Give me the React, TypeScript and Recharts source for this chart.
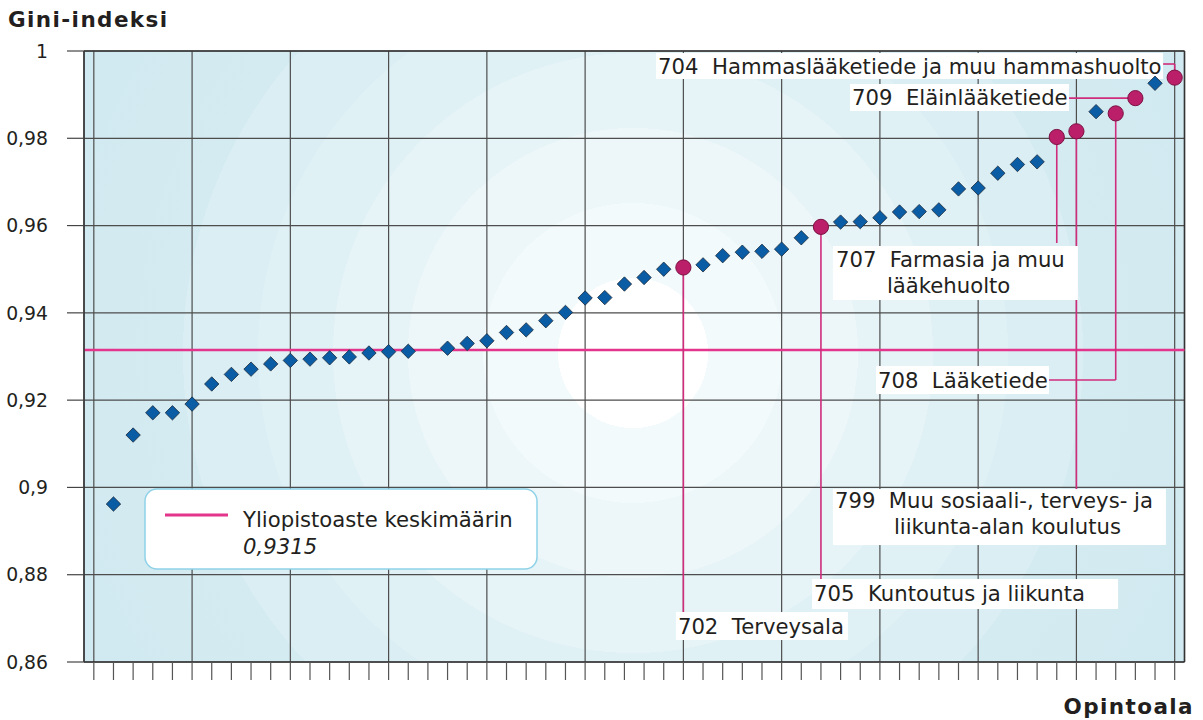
import React from 'react';
import {
  ComposedChart, Scatter, XAxis, YAxis, CartesianGrid,
  ReferenceLine, ReferenceDot
} from 'recharts';

const FONT = '"DejaVu Sans", Verdana, sans-serif';
const TEXT = '#231f20';

// Gini-indeksi opintoaloittain, nousevassa järjestyksessä (null = ei pistettä)
const giniValues: (number | null)[] = [
  null, 0.8962, 0.9120, 0.9171, 0.9171, 0.9191, 0.9237, 0.9259, 0.9271, 0.9283,
  0.9291, 0.9294, 0.9297, 0.9299, 0.9308, 0.9311, 0.9312, null, 0.9319, 0.9330,
  0.9336, 0.9355, 0.9361, 0.9382, 0.9401, 0.9434, 0.9435, 0.9466, 0.9481, 0.9500,
  0.9504, 0.9510, 0.9531, 0.9539, 0.9541, 0.9546, 0.9572, 0.9597, 0.9608, 0.9609,
  0.9618, 0.9631, 0.9632, 0.9636, 0.9684, 0.9686, 0.9720, 0.9740, 0.9746, 0.9803,
  0.9816, 0.9861, 0.9857, 0.9892, 0.9926, 0.9939,
];

const yTicks = [0.86, 0.88, 0.9, 0.92, 0.94, 0.96, 0.98, 1];
const average = 0.9315;
const averageLabel = 'Yliopistoaste keskimäärin';

// korostetut alat
const highlightIndex = [30, 37, 49, 50, 52, 53, 55];
const highlightCodes = ['702', '705', '707', '799', '708', '709', '704'];
const highlightNames = [
  ['Terveysala'],
  ['Kuntoutus ja liikunta'],
  ['Farmasia ja muu', 'lääkehuolto'],
  ['Muu sosiaali-, terveys- ja', 'liikunta-alan koulutus'],
  ['Lääketiede'],
  ['Eläinlääketiede'],
  ['Hammaslääketiede ja muu hammashuolto'],
];

// label boxes: top-left in data coords, size + text offsets in px, leader waypoints in data coords
type Layout = { box: [number, number]; w: number; h: number; lines: [number, number][]; leader: [number, number][] };
const labelLayout: Record<string, Layout> = {
  '702': { box: [29.62, 0.87145], w: 172, h: 28, lines: [[2, 22]], leader: [[30, 0.87145]] },
  '705': { box: [36.55, 0.87901], w: 306, h: 30, lines: [[2, 22]], leader: [[37, 0.87901]] },
  '707': { box: [37.61, 0.95532], w: 245, h: 54, lines: [[3, 21], [54, 47]], leader: [[49, 0.9560]] },
  '799': { box: [37.61, 0.89963], w: 333, h: 56, lines: [[2, 19], [61, 45]], leader: [[50, 0.89963]] },
  '708': { box: [39.80, 0.92782], w: 173, h: 28, lines: [[2, 22]], leader: [[52, 0.92461], [48.60, 0.92461]] },
  '709': { box: [38.48, 0.99244], w: 219, h: 27, lines: [[2, 21]], leader: [[49.57, 0.9892]] },
  '704': { box: [28.61, 0.99954], w: 507, h: 26, lines: [[2, 21]], leader: [[55, 0.99702], [54.41, 0.99702]] },
};

const xTicks = giniValues.map((_, i) => i);
const majorTicks = xTicks.filter((i) => i % 5 === 0);

const diamonds = giniValues
  .map((v, i) => ({ x: i, y: v }))
  .filter((d) => d.y !== null && !highlightIndex.includes(d.x));
const circles = highlightIndex.map((i) => ({ x: i, y: giniValues[i] as number }));

const fmt = (v: number) => String(+v.toFixed(4)).replace('.', ',');

const Diamond = (p: any) => {
  const { cx, cy } = p;
  if (cx == null || cy == null) return <g />;
  const s = 7.2;
  return (
    <path
      d={`M${cx},${cy - s}L${cx + s},${cy}L${cx},${cy + s}L${cx - s},${cy}Z`}
      fill="#0a5ca4" stroke="#1c2b3b" strokeWidth={0.8}
    />
  );
};

const Circle = (p: any) => {
  const { cx, cy } = p;
  if (cx == null || cy == null) return <g />;
  return <circle cx={cx} cy={cy} r={7.6} fill="#bb1f69" stroke="#7a1242" strokeWidth={1} />;
};

const makeLabel = (code: string, names: string[], lay: Layout) => (p: any) => {
  const { cx, cy } = p;
  return (
    <g>
      <rect x={cx} y={cy} width={lay.w} height={lay.h} fill="#fff" />
      {names.map((t, k) => (
        <text
          key={k}
          x={cx + lay.lines[k][0]}
          y={cy + lay.lines[k][1]}
          fontFamily={FONT}
          fontSize={21.2}
          fill={TEXT}
          style={{ whiteSpace: 'pre' }}
        >
          {k === 0 ? `${code}  ${t}` : t}
        </text>
      ))}
    </g>
  );
};

export default function App() {
  return (
    <div style={{ position: 'absolute', left: 0, top: 0, width: 1203, height: 720, background: '#fff' }}>
      <ComposedChart
        width={1203}
        height={720}
        margin={{ top: 51, right: 18.5, bottom: 0, left: 0 }}
      >
        <defs>
          <radialGradient id="plotBg" gradientUnits="userSpaceOnUse" cx={633} cy={353} r={600}>
            <stop offset="0" stopColor="#ffffff" />
            <stop offset="0.125" stopColor="#ffffff" />
            <stop offset="0.125" stopColor="#f3fafc" />
            <stop offset="0.25" stopColor="#f3fafc" />
            <stop offset="0.25" stopColor="#edf7fa" />
            <stop offset="0.375" stopColor="#edf7fa" />
            <stop offset="0.375" stopColor="#e6f4f8" />
            <stop offset="0.5" stopColor="#e6f4f8" />
            <stop offset="0.5" stopColor="#e0f1f6" />
            <stop offset="0.625" stopColor="#e0f1f6" />
            <stop offset="0.625" stopColor="#daeef4" />
            <stop offset="0.75" stopColor="#daeef4" />
            <stop offset="0.75" stopColor="#d5ebf2" />
            <stop offset="1" stopColor="#d1e9f0" />
          </radialGradient>
        </defs>
        <CartesianGrid
          xAxisId="major"
          fill="url(#plotBg)"
          fillOpacity={1}
          stroke="#4d4d4d"
          strokeWidth={1.2}
        />
        <XAxis
          xAxisId="major"
          type="number"
          dataKey="x"
          domain={[-0.5, 55.5]}
          ticks={majorTicks}
          allowDataOverflow
          hide
        />
        <XAxis
          type="number"
          dataKey="x"
          domain={[-0.5, 55.5]}
          ticks={xTicks}
          interval={0}
          allowDataOverflow
          height={58}
          tickSize={18}
          tickFormatter={() => ''}
          axisLine={{ stroke: '#333', strokeWidth: 1.5 }}
          tickLine={{ stroke: '#555', strokeWidth: 1.2 }}
        />
        <YAxis
          type="number"
          dataKey="y"
          domain={[0.86, 1]}
          ticks={yTicks}
          interval={0}
          allowDataOverflow
          width={84}
          tickSize={17}
          tickMargin={19}
          tickFormatter={fmt}
          tick={{ fill: TEXT, fontSize: 18.8, fontFamily: FONT }}
          axisLine={{ stroke: '#333', strokeWidth: 1.5 }}
          tickLine={{ stroke: '#444', strokeWidth: 1.2 }}
        />
        <ReferenceLine y={1} stroke="#333" strokeWidth={1.5} />
        <ReferenceLine x={55.5} stroke="#333" strokeWidth={1.5} />
        <ReferenceLine y={average} stroke="#e4358c" strokeWidth={2.6} />
        {highlightIndex.map((idx, k) => {
          const lay = labelLayout[highlightCodes[k]];
          const pts: [number, number][] = [[idx, giniValues[idx] as number], ...lay.leader];
          return pts.slice(1).map((pt, j) => (
            <ReferenceLine
              key={`${k}-${j}`}
              segment={[{ x: pts[j][0], y: pts[j][1] }, { x: pt[0], y: pt[1] }]}
              stroke="#d02c7c"
              strokeWidth={1.6}
            />
          ));
        })}
        {highlightCodes.map((code, k) => {
          const lay = labelLayout[code];
          return (
            <ReferenceDot
              key={code}
              x={lay.box[0]}
              y={lay.box[1]}
              r={1}
              shape={makeLabel(code, highlightNames[k], lay)}
            />
          );
        })}
        <Scatter data={diamonds} shape={Diamond} isAnimationActive={false} />
        <Scatter data={circles} shape={Circle} isAnimationActive={false} />
      </ComposedChart>
      <svg
        width={1203}
        height={720}
        style={{ position: 'absolute', left: 0, top: 0, pointerEvents: 'none' }}
      >
        <text x={8} y={27} fontFamily={FONT} fontWeight="bold" fontSize={21.5} letterSpacing={1.4} fill={TEXT}>
          Gini-indeksi
        </text>
        <text x={1194} y={714} textAnchor="end" fontFamily={FONT} fontWeight="bold" fontSize={21.5} letterSpacing={1.4} fill={TEXT}>
          Opintoala
        </text>
        <rect x={145} y={489} width={392} height={80} rx={12} fill="#fff" stroke="#8fd2e7" strokeWidth={1.5} />
        <line x1={165} x2={228} y1={515} y2={515} stroke="#e4358c" strokeWidth={3} />
        <text x={243} y={527} fontFamily={FONT} fontSize={21.2} fill={TEXT}>{averageLabel}</text>
        <text x={243} y={554} fontFamily={FONT} fontSize={21.2} fontStyle="italic" fill={TEXT}>
          {fmt(average)}
        </text>
      </svg>
    </div>
  );
}
